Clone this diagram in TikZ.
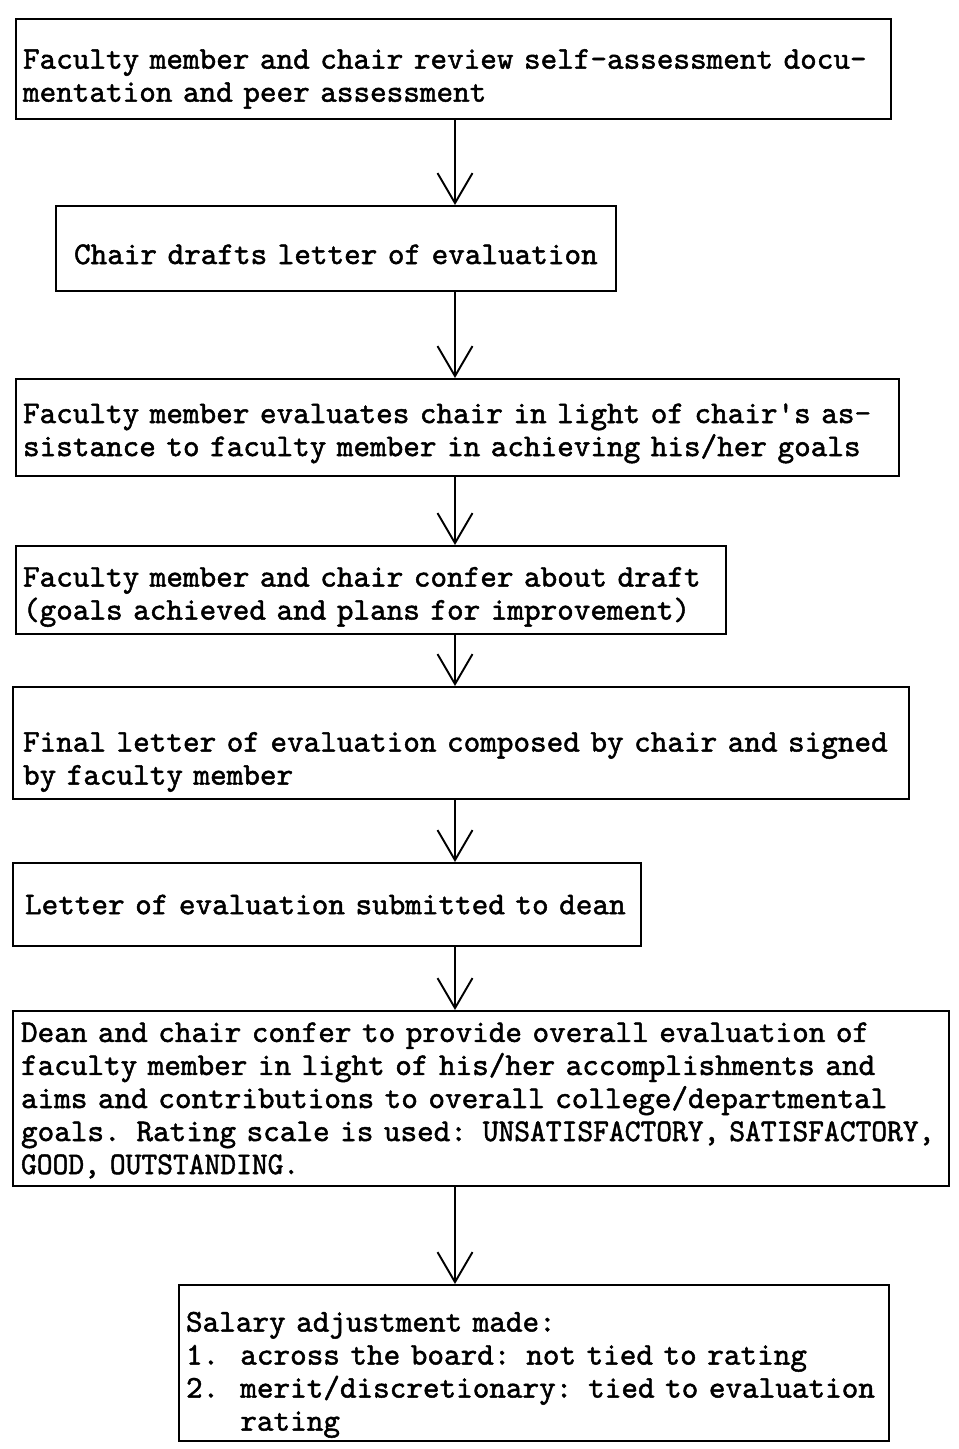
\documentclass[tikz,border=0pt]{standalone}
\usepackage{fontspec}
\newfontfamily\typewriter{lmmono10-regular.otf}[FakeBold=1.5]
\usetikzlibrary{arrows.meta}
% raise the first line so that the text sits lower in its box
\newcommand{\pushdown}[1]{\rule{0pt}{\dimexpr\fontcharht\font`\l+#1*2\relax}}
% the capitals of the rating scale are set a little narrower
\newcommand{\narrowcaps}[1]{\scalebox{0.95}[1]{#1}}

\begin{document}
\begin{tikzpicture}[x=0.02cm, y=-0.02cm, >={Straight Barb[length=0.6cm, width=0.7cm, line width=1.1pt]}]
    \tikzset{
        stepbox/.style={
            draw, line width=1.2pt, anchor=north west, align=left,
            inner ysep=0pt,
            font=\typewriter\fontsize{18pt}{18.8pt}\selectfont
        },
        flowarrow/.style={->, line width=1.1pt}
    }
    \useasboundingbox (0,0) rectangle (959,1449);
    \coordinate (ax) at (455,0);

    \node [stepbox, text width=17.22cm, inner xsep=0.14cm, minimum height=2cm] (review) at (15,18)
        {\pushdown{0.2cm}Faculty member and chair review self-assessment docu-\\mentation and peer assessment};
    \node [stepbox, text width=10.48cm, inner xsep=0.36cm, minimum height=1.7cm] (draft) at (55,205)
        {\pushdown{0.12cm}Chair drafts letter of evaluation};
    \node [stepbox, text width=17.38cm, inner xsep=0.14cm, minimum height=1.94cm] (evalchair) at (15,378)
        {\pushdown{0.12cm}Faculty member evaluates chair in light of chair's as-\\sistance to faculty member in achieving his/her goals};
    \node [stepbox, text width=13.92cm, inner xsep=0.14cm, minimum height=1.76cm] (confer) at (15,545)
        {\pushdown{0.14cm}Faculty member and chair confer about draft\\(goals achieved and plans for improvement)};
    \node [stepbox, text width=17.52cm, inner xsep=0.2cm, minimum height=2.24cm] (final) at (12,686)
        {\pushdown{0.38cm}Final letter of evaluation composed by chair and signed\\by faculty member};
    \node [stepbox, text width=12.08cm, inner xsep=0.24cm, minimum height=1.66cm] (submit) at (12,862)
        {Letter of evaluation submitted to dean};
    \node [stepbox, text width=18.4cm, inner xsep=0.16cm, minimum height=3.5cm] (dean) at (12,1010)
        {\pushdown{0.04cm}Dean and chair confer to provide overall evaluation of\\
         faculty member in light of his/her accomplishments and\\
         aims and contributions to overall college/departmental\\
         \mbox{goals. Rating scale is used: \narrowcaps{UNSATISFACTORY, SATISFACTORY,}}\\
         \narrowcaps{GOOD, OUTSTANDING.}};
    \node [stepbox, text width=13.92cm, inner xsep=0.14cm, minimum height=3.12cm] (salary) at (178,1284)
        {\pushdown{0.24cm}Salary adjustment made:\\
         1.\ \ across the board: not tied to rating\\
         2.\ \ merit/discretionary: tied to evaluation\\
         \phantom{2.\ \ }rating};

    % vertical connectors
    \draw [flowarrow] (review.south -| ax) -- (draft.north -| ax);
    \draw [flowarrow] (draft.south -| ax) -- (evalchair.north -| ax);
    \draw [flowarrow] (evalchair.south -| ax) -- (confer.north -| ax);
    \draw [flowarrow] (confer.south -| ax) -- (final.north -| ax);
    \draw [flowarrow] (final.south -| ax) -- (submit.north -| ax);
    \draw [flowarrow] (submit.south -| ax) -- (dean.north -| ax);
    \draw [flowarrow] (dean.south -| ax) -- (salary.north -| ax);
\end{tikzpicture}
\end{document}
